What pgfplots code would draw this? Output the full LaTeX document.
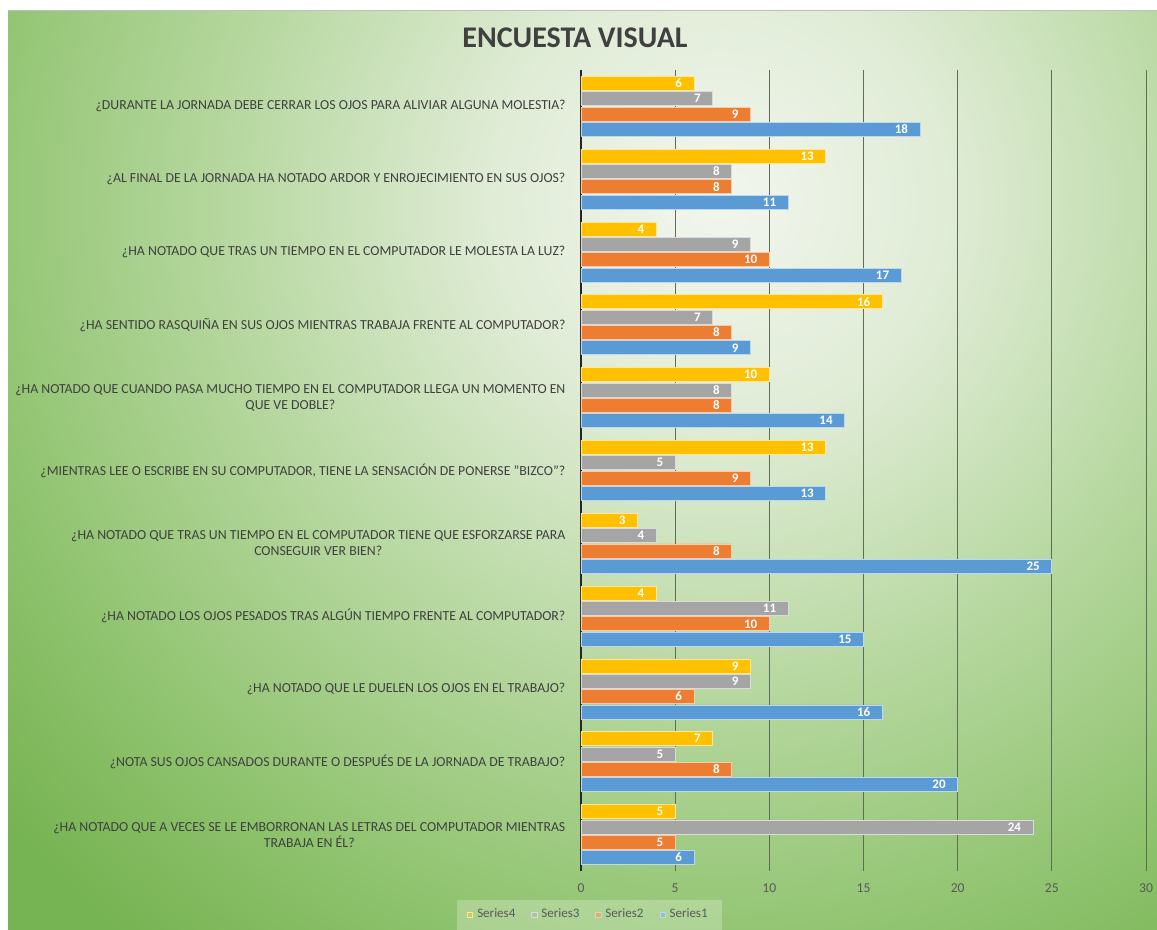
\documentclass[border=0pt]{standalone}
\usepackage{pgfplots}
\pgfplotsset{compat=1.18}
\usepackage{pgfplotstable}
\usepackage{fontspec}
\setmainfont{Carlito}

\definecolor{sone}{HTML}{5B9BD5}
\definecolor{stwo}{HTML}{ED7D31}
\definecolor{sthree}{HTML}{A5A5A5}
\definecolor{sfour}{HTML}{FFC000}
\definecolor{labgray}{HTML}{404040}
\definecolor{tickgray}{HTML}{595959}
\definecolor{gridc}{HTML}{5E6E55}
\definecolor{bgA}{HTML}{F2F6EE}
\definecolor{bgB}{HTML}{E0ECD6}
\definecolor{bgC}{HTML}{B9D9A3}
\definecolor{bgD}{HTML}{8FC36E}
\definecolor{bgE}{HTML}{76B352}

% stops up to 25bp = radius of the shaded circle
\pgfdeclareradialshading{bgshade}{\pgfpoint{0bp}{0bp}}{color(0bp)=(bgA); color(6bp)=(bgB); color(12.5bp)=(bgC); color(20bp)=(bgD); color(25bp)=(bgE); color(50bp)=(bgE)}

% y = category position (0 = bottom), s1..s4 = Series1..Series4
\pgfplotstableread{
y  s1 s2 s3 s4
0   6  5 24  5
1  20  8  5  7
2  16  6  9  9
3  15 10 11  4
4  25  8  4  3
5  13  9  5 13
6  14  8  8 10
7   9  8  7 16
8  17 10  9  4
9  11  8  8 13
10 18  9  7  6
}\encuesta

\begin{document}
\begin{tikzpicture}
\useasboundingbox (0,0) rectangle (578.5pt,465pt);
\fill[white] (0,0) rectangle (578.5pt,465pt);
\begin{scope}
  \clip (4pt,0) rectangle (578.5pt,459.5pt);
  \fill[bgE] (4pt,0) rectangle (578.5pt,459.5pt);
  \shade[shading=bgshade] (360pt,365pt) circle (475pt);
\end{scope}
\draw[black!25, line width=0.5pt] (4pt,459.5pt) -- (578.5pt,459.5pt);
\node[font=\bfseries\fontsize{15}{17}\selectfont, text=labgray] at (287.5pt,446pt) {ENCUESTA VISUAL};

\begin{axis}[
  at={(290.5pt,29.5pt)}, anchor=south west,
  scale only axis,
  width=282.5pt, height=400.5pt,
  xmin=0, xmax=30,
  ymin=-0.5, ymax=10.5,
  xbar, bar width=7pt,
  /pgf/number format/assume math mode=true,
  xtick={0,5,...,30},
  ytick={0,...,10},
  yticklabels={
    {¿HA NOTADO QUE A VECES SE LE EMBORRONAN LAS LETRAS DEL COMPUTADOR MIENTRAS\\TRABAJA EN ÉL?},
    {¿NOTA SUS OJOS CANSADOS  DURANTE  O DESPUÉS DE LA JORNADA DE TRABAJO?},
    {¿HA NOTADO QUE LE DUELEN LOS OJOS EN EL TRABAJO?},
    {¿HA NOTADO LOS OJOS PESADOS TRAS ALGÚN  TIEMPO FRENTE AL COMPUTADOR?},
    {¿HA NOTADO QUE TRAS UN TIEMPO EN EL COMPUTADOR TIENE QUE ESFORZARSE PARA\\CONSEGUIR VER BIEN?},
    {¿MIENTRAS LEE O ESCRIBE EN SU COMPUTADOR, TIENE LA SENSACIÓN DE PONERSE "BIZCO"?},
    {¿HA NOTADO QUE CUANDO PASA MUCHO TIEMPO EN EL COMPUTADOR LLEGA UN MOMENTO EN\\QUE VE DOBLE?},
    {¿HA SENTIDO RASQUIÑA EN SUS OJOS MIENTRAS TRABAJA FRENTE AL COMPUTADOR?},
    {¿HA NOTADO QUE TRAS UN TIEMPO EN EL COMPUTADOR LE MOLESTA LA LUZ?},
    {¿AL FINAL DE LA JORNADA HA NOTADO ARDOR Y ENROJECIMIENTO EN SUS OJOS?},
    {¿DURANTE LA JORNADA DEBE CERRAR LOS OJOS PARA ALIVIAR ALGUNA MOLESTIA?}},
  yticklabel style={font=\fontsize{6.9}{8}\selectfont, text=labgray, align=center},
  xticklabel style={font=\fontsize{6.8}{8}\selectfont, text=tickgray, yshift=-3pt},
  axis lines*=left,
  x axis line style={draw=none},
  y axis line style={draw=black!85, line width=1pt},
  tick style={draw=none},
  xmajorgrids,
  grid style={draw=gridc, line width=0.5pt},
  nodes near coords,
  nodes near coords align={east},
  every node near coord/.append style={text=white, font=\bfseries\fontsize{6.5}{8}\selectfont, xshift=-2.5pt},
  legend style={at={(axis description cs:0.015,-0.0549)}, anchor=center,
    legend columns=-1, draw=none, fill=white, fill opacity=0.25, text opacity=1,
    font=\fontsize{6.5}{7}\selectfont, text=tickgray, inner xsep=5pt, inner ysep=2.5pt,
    /tikz/every even column/.append style={column sep=6pt}},
  reverse legend,
  legend image code/.code={\fill[#1] (0pt,-1.3pt) rectangle (2.6pt,1.3pt);},
]
\addplot[fill=sone, draw=white!60!sone, line width=0.4pt, bar shift=-11.5pt] table[x=s1, y=y] {\encuesta};
\addlegendentry{Series1}
\addplot[fill=stwo, draw=white!60!stwo, line width=0.4pt, bar shift=-3.83pt] table[x=s2, y=y] {\encuesta};
\addlegendentry{Series2}
\addplot[fill=sthree, draw=white!60!sthree, line width=0.4pt, bar shift=3.83pt] table[x=s3, y=y] {\encuesta};
\addlegendentry{Series3}
\addplot[fill=sfour, draw=white!60!sfour, line width=0.4pt, bar shift=11.5pt] table[x=s4, y=y] {\encuesta};
\addlegendentry{Series4}
\end{axis}
\end{tikzpicture}
\end{document}
